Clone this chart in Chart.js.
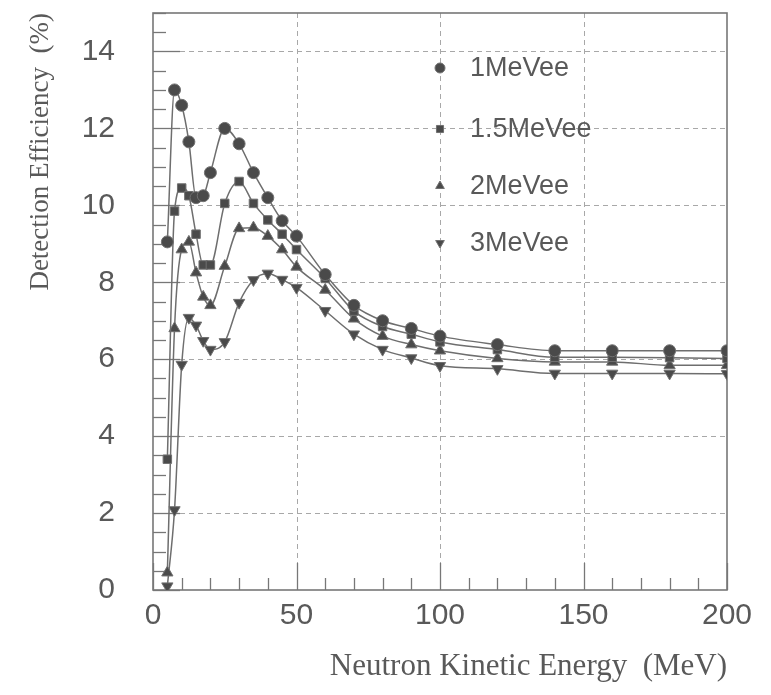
<!DOCTYPE html>
<html>
<head>
<meta charset="utf-8">
<script src="https://cdn.jsdelivr.net/npm/chart.js@4/dist/chart.umd.min.js"></script>
<style>
  html, body { margin: 0; padding: 0; background: #ffffff; }
  #c { display: block; }
</style>
</head>
<body>
<canvas id="c" width="771" height="695"></canvas>
<script>
// ---- data ----
const energy = [5, 7.5, 10, 12.5, 15, 17.5, 20, 25, 30, 35, 40, 45, 50, 60, 70, 80, 90, 100, 120, 140, 160, 180, 200];
const eff1MeVee  = [9.05, 13.0, 12.6, 11.65, 10.2, 10.25, 10.85, 12.0, 11.6, 10.85, 10.2, 9.6, 9.2, 8.2, 7.4, 7.0, 6.8, 6.6, 6.38, 6.22, 6.22, 6.22, 6.22];
const eff15MeVee = [3.4, 9.85, 10.45, 10.25, 9.25, 8.45, 8.45, 10.05, 10.62, 10.05, 9.62, 9.25, 8.85, 8.1, 7.25, 6.85, 6.65, 6.45, 6.25, 6.05, 6.05, 6.04, 6.02];
const eff2MeVee  = [0.45, 6.8, 8.85, 9.05, 8.25, 7.62, 7.4, 8.42, 9.4, 9.42, 9.2, 8.85, 8.4, 7.8, 7.05, 6.6, 6.38, 6.22, 6.02, 5.93, 5.93, 5.84, 5.84];
const eff3MeVee  = [0.1, 2.08, 5.86, 7.08, 6.88, 6.48, 6.25, 6.45, 7.47, 8.06, 8.23, 8.07, 7.86, 7.26, 6.65, 6.25, 6.03, 5.83, 5.75, 5.63, 5.63, 5.63, 5.62];
const seriesLabels = ["1MeVee", "1.5MeVee", "2MeVee", "3MeVee"];
const xTicks = [0, 50, 100, 150, 200];
const yTicks = [0, 2, 4, 6, 8, 10, 12, 14];
const xTitle = "Neutron Kinetic Energy  (MeV)";
const yTitle = "Detection Efficiency  (%)";

// ---- styles ----
const markerFill = '#4a4a4a';
const markerEdge = '#707070';
const lineColor = '#6e6e6e';
const textColor = '#595959';
const styles = [
  { pointStyle: 'circle', rotation: 0, radius: 6 },
  { pointStyle: 'rect', rotation: 0, radius: 6 },
  { pointStyle: 'triangle', rotation: 0, radius: 6.5 },
  { pointStyle: 'triangle', rotation: 180, radius: 6.5 }
];
const seriesValues = [eff1MeVee, eff15MeVee, eff2MeVee, eff3MeVee];

const datasets = seriesValues.map((vals, i) => ({
  label: seriesLabels[i],
  data: energy.map((e, k) => ({ x: e, y: vals[k] })),
  borderColor: lineColor,
  borderWidth: 1.5,
  backgroundColor: markerFill,
  pointBackgroundColor: markerFill,
  pointBorderColor: markerEdge,
  pointBorderWidth: 1,
  pointStyle: styles[i].pointStyle,
  pointRotation: styles[i].rotation,
  pointRadius: styles[i].radius,
  cubicInterpolationMode: 'monotone',
  fill: false
}));

// frame, dashed grid, inner tick marks
const framePlugin = {
  id: 'frame',
  beforeDatasetsDraw(chart) {
    const { ctx, chartArea: a, scales } = chart;
    const xs = scales.x, ys = scales.y;
    ctx.save();
    ctx.strokeStyle = '#a8a8a8';
    ctx.lineWidth = 1;
    ctx.setLineDash([5, 4]);
    yTicks.forEach(v => {
      if (v <= ys.min || v >= ys.max) return;
      const py = Math.round(ys.getPixelForValue(v)) + 0.5;
      ctx.beginPath(); ctx.moveTo(a.left, py); ctx.lineTo(a.right, py); ctx.stroke();
    });
    xTicks.forEach(v => {
      if (v <= xs.min || v >= xs.max) return;
      const px = Math.round(xs.getPixelForValue(v)) + 0.5;
      ctx.beginPath(); ctx.moveTo(px, a.top); ctx.lineTo(px, a.bottom); ctx.stroke();
    });
    ctx.setLineDash([]);
    ctx.strokeStyle = '#777777';
    ctx.lineWidth = 1.3;
    for (let v = 0; v <= ys.max + 1e-9; v += 0.5) {
      const major = Math.abs(v / 2 - Math.round(v / 2)) < 1e-9;
      const len = major ? 27 : 13;
      const py = Math.round(ys.getPixelForValue(v)) + 0.5;
      ctx.beginPath(); ctx.moveTo(a.left, py); ctx.lineTo(a.left + len, py); ctx.stroke();
    }
    for (let v = 0; v <= xs.max + 1e-9; v += 10) {
      const major = v % 50 === 0;
      const len = major ? 27 : 12;
      const px = Math.round(xs.getPixelForValue(v)) + 0.5;
      ctx.beginPath(); ctx.moveTo(px, a.bottom); ctx.lineTo(px, a.bottom - len); ctx.stroke();
    }
    ctx.strokeStyle = '#777777';
    ctx.lineWidth = 1.6;
    ctx.strokeRect(a.left, a.top, a.right - a.left, a.bottom - a.top);
    ctx.restore();
  }
};

// legend drawn inside the plot
const innerLegend = {
  id: 'innerLegend',
  afterDatasetsDraw(chart) {
    const { ctx } = chart;
    const rows = [68, 129, 186, 243];
    const mx = 440, tx = 470;
    ctx.save();
    chart.data.datasets.forEach((ds, i) => {
      const y = rows[i];
      const opts = {
        pointStyle: ds.pointStyle,
        rotation: ds.pointRotation,
        radius: 5,
        borderWidth: 1
      };
      ctx.fillStyle = markerFill;
      ctx.strokeStyle = markerEdge;
      ctx.lineWidth = 1;
      if (Chart.helpers && Chart.helpers.drawPoint) {
        Chart.helpers.drawPoint(ctx, opts, mx, y);
      }
      ctx.fillStyle = textColor;
      ctx.font = '27px "Liberation Sans", Arial, sans-serif';
      ctx.textAlign = 'left';
      ctx.textBaseline = 'middle';
      ctx.fillText(ds.label, tx, y + 1);
    });
    ctx.restore();
  }
};

new Chart(document.getElementById('c'), {
  type: 'line',
  data: { datasets },
  options: {
    responsive: false,
    animation: false,
    devicePixelRatio: 1,
    layout: { padding: { top: 13, right: 44, bottom: 0, left: 0 } },
    plugins: {
      legend: { display: false },
      tooltip: { enabled: false }
    },
    scales: {
      x: {
        type: 'linear',
        min: 0,
        max: 200,
        afterBuildTicks: s => { s.ticks = xTicks.map(v => ({ value: v })); },
        afterFit: s => { s.height = 105; s.paddingLeft = 0; s.paddingRight = 0; },
        grid: { display: false, drawTicks: false },
        border: { display: false },
        ticks: {
          color: textColor,
          font: { family: '"Liberation Sans", Arial, sans-serif', size: 30 },
          padding: 8,
          maxRotation: 0,
          autoSkip: false
        },
        title: {
          display: true,
          text: xTitle,
          align: 'end',
          color: textColor,
          font: { family: '"Liberation Serif", "Times New Roman", serif', size: 31 },
          padding: { top: 0, bottom: 10 }
        }
      },
      y: {
        type: 'linear',
        min: 0,
        max: 15,
        afterBuildTicks: s => { s.ticks = yTicks.map(v => ({ value: v })); },
        afterFit: s => { s.width = 153; s.paddingTop = 0; s.paddingBottom = 0; },
        grid: { display: false, drawTicks: false },
        border: { display: false },
        ticks: {
          color: textColor,
          font: { family: '"Liberation Sans", Arial, sans-serif', size: 30 },
          padding: 38,
          autoSkip: false
        },
        title: {
          display: true,
          text: yTitle,
          align: 'end',
          color: textColor,
          font: { family: '"Liberation Serif", "Times New Roman", serif', size: 27 },
          padding: { top: 25, bottom: 0 }
        }
      }
    }
  },
  plugins: [framePlugin, innerLegend]
});
</script>
</body>
</html>
